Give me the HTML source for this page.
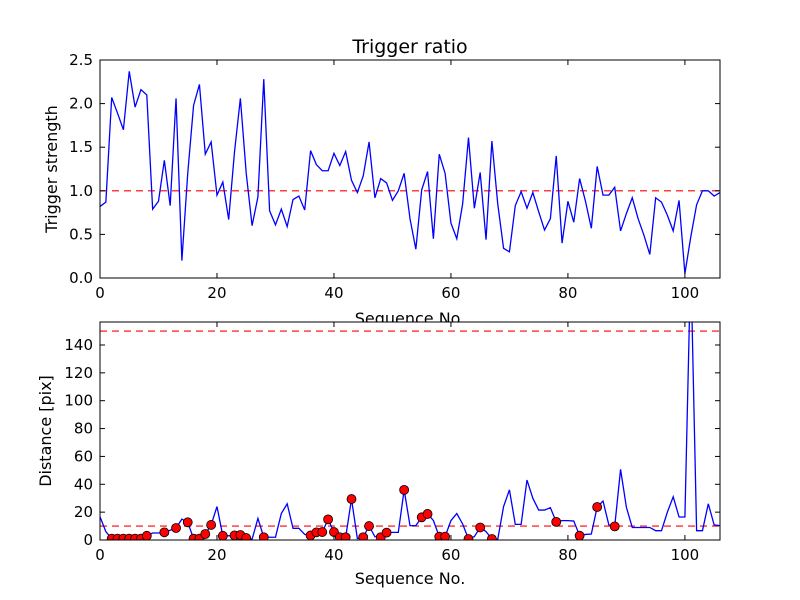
<!DOCTYPE html>
<html><head><meta charset="utf-8"><style>
html,body{margin:0;padding:0;background:#fff;}
svg{display:block;font-family:"DejaVu Sans","Liberation Sans",sans-serif;}
</style></head><body>
<svg id="c" width="800" height="600"></svg>
<script>
const ratioValues=[0.82,0.87,2.07,1.89,1.70,2.37,1.96,2.16,2.10,0.79,0.88,1.35,0.83,2.06,0.20,1.20,1.98,2.22,1.42,1.56,0.95,1.10,0.67,1.45,2.06,1.20,0.60,0.93,2.28,0.77,0.61,0.79,0.59,0.90,0.94,0.78,1.46,1.30,1.23,1.23,1.43,1.29,1.45,1.12,0.98,1.17,1.56,0.92,1.14,1.09,0.89,1.00,1.20,0.68,0.33,1.01,1.22,0.45,1.42,1.20,0.63,0.45,0.85,1.61,0.80,1.21,0.44,1.57,0.85,0.34,0.30,0.83,0.99,0.80,0.98,0.76,0.55,0.68,1.40,0.40,0.88,0.64,1.14,0.88,0.57,1.28,0.95,0.95,1.04,0.54,0.74,0.92,0.68,0.49,0.27,0.92,0.87,0.72,0.54,0.89,0.05,0.47,0.84,1.00,1.00,0.94,0.98];
const distValues=[16.7,6,1,1,1,1,1,1,3,5,5,5.5,7,8.6,15,12.7,1,1,4.3,10.8,24,3,3,3.3,3.6,1.4,0.5,15.5,2,2,2,19,26,8.4,8.4,4,3.3,5.5,5.7,14.8,5.7,2,2,29.4,1,2,10,2.4,2,5.3,5.5,5.5,36,10.3,10.3,16.3,18.7,14,2.4,2.4,13.9,19,11.5,0.7,2.4,9,6,0.7,0.5,24,36,11.2,11.2,43,30,21.5,21.5,23.2,13,13.9,13.9,13.6,3.1,4,4.3,23.7,28,10.8,9.8,50.7,23.4,9,9,9,9,6.7,6.7,20,31,16.5,16.5,200,6.7,6.7,26,10.8,10.3];
const markerIdx=[2,3,4,5,6,7,8,11,13,15,16,17,18,19,21,23,24,25,28,36,37,38,39,40,41,42,43,45,46,48,49,52,55,56,58,59,63,65,67,78,82,85,88];
const ratioThreshold=1.0;
const distThresholds=[10,150];
const xTicks=[0,20,40,60,80,100];
const ratioTicks=[0.0,0.5,1.0,1.5,2.0,2.5];
const distTicks=[0,20,40,60,80,100,120,140];

const NS="http://www.w3.org/2000/svg";
const svg=document.getElementById('c');
function mk(tag,attrs,parent){const e=document.createElementNS(NS,tag);for(const k in attrs)e.setAttribute(k,attrs[k]);(parent||svg).appendChild(e);return e;}
const L=100,R=720,XMAX=106;
const sx=v=>L+(R-L)*v/XMAX;

function panel(top,bot,ymax,vals,ticks,fmt,thr,ylab,name,markers){
  const sy=v=>bot-(bot-top)*v/ymax;
  const g=mk('g',{});
  
  
  mk('rect',{x:L,y:top,width:R-L,height:bot-top,fill:'#fff'},g);
  const cid='clip-'+name;
  const cp=mk('clipPath',{id:cid},g);mk('rect',{x:L,y:top,width:R-L,height:bot-top},cp);
  const pg=mk('g',{'clip-path':'url(#'+cid+')'},g);
  thr.forEach(t=>{const l=mk('line',{x1:L,x2:R,y1:sy(t),y2:sy(t),stroke:'#ff0000','stroke-width':1.2,'stroke-dasharray':'7,5'},pg);
    
    });
  const p=mk('polyline',{points:vals.map((v,i)=>sx(i)+','+sy(v)).join(' '),fill:'none',stroke:'#0000ff','stroke-width':1.3},pg);
  
  
  if(markers){markers.forEach(i=>{const c=mk('circle',{cx:sx(i),cy:sy(vals[i]),r:4.5,fill:'#ff0000',stroke:'#000','stroke-width':0.8},pg);
    
    });}
  mk('rect',{x:L,y:top,width:R-L,height:bot-top,fill:'none',stroke:'#000','stroke-width':1},g);
  xTicks.forEach(t=>{const x=sx(t);
    mk('line',{x1:x,x2:x,y1:bot,y2:bot-5,stroke:'#000'},g);
    mk('line',{x1:x,x2:x,y1:top,y2:top+5,stroke:'#000'},g);
    const tx=mk('text',{x:x,y:bot+20,'font-size':15,'text-anchor':'middle'},g);tx.textContent=t;
    
    });
  ticks.forEach(t=>{const y=sy(t);
    mk('line',{x1:L,x2:L+5,y1:y,y2:y,stroke:'#000'},g);
    mk('line',{x1:R,x2:R-5,y1:y,y2:y,stroke:'#000'},g);
    const tx=mk('text',{x:L-7,y:y+5,'font-size':15,'text-anchor':'end'},g);tx.textContent=fmt(t);
    
    });
  const yl=mk('text',{x:0,y:0,'font-size':16,'text-anchor':'middle',transform:'translate('+ylab[1]+','+((top+bot)/2)+') rotate(-90)'},g);
  yl.textContent=ylab[0];
  
  
}
const t=mk('text',{x:410,y:53,'font-size':19,'text-anchor':'middle'});t.textContent='Trigger ratio';


panel(60,278,2.5,ratioValues,ratioTicks,v=>v.toFixed(1),[ratioThreshold],['Trigger strength',57],'ratio',null);
const xl1=mk('text',{x:410,y:324,'font-size':16,'text-anchor':'middle'});xl1.textContent='Sequence No.';


panel(322,540,156.5,distValues,distTicks,v=>String(v),distThresholds,['Distance [pix]',51],'distance',markerIdx);
const xl2=mk('text',{x:410,y:584,'font-size':16,'text-anchor':'middle'});xl2.textContent='Sequence No.';


</script>
</body></html>
